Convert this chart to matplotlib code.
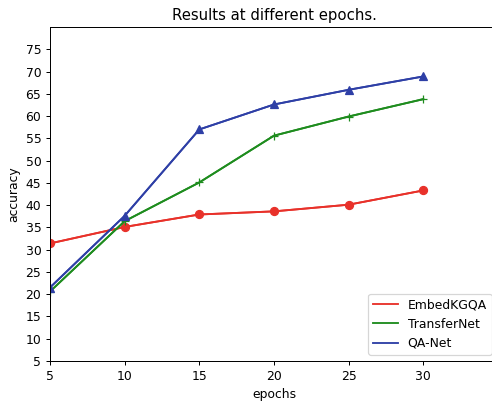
import matplotlib
matplotlib.use("Agg")
import matplotlib.pyplot as plt

epochs = [5, 10, 15, 20, 25, 30]
embedkgqa = [31.4, 35.1, 37.9, 38.6, 40.1, 43.3]
transfernet = [20.6, 36.4, 45.1, 55.6, 59.9, 63.8]
qanet = [21.5, 37.6, 57.0, 62.6, 65.9, 68.9]

series_names = ["EmbedKGQA", "TransferNet", "QA-Net"]
colors = ["#e8312a", "#1e8c1e", "#2e3fa6"]
markers = ["o", "+", "^"]

DPI = 89
fig = plt.figure(figsize=(492 / DPI, 404 / DPI), dpi=DPI)
ax = fig.add_axes([50 / 492, 43 / 404, 448 / 492, 334 / 404])

for name, vals, c, m in zip(series_names, [embedkgqa, transfernet, qanet], colors, markers):
    ax.plot(epochs, vals, color=c, lw=1.5, label=name)
    ax.plot(epochs, vals, color=c, lw=1.5, marker=m, markersize=6.5)

ax.set_xlim(5, 35)
ax.set_ylim(5, 80)
ax.set_xticks(range(5, 31, 5))
ax.set_yticks(range(5, 76, 5))
ax.set_xlabel("epochs")
ax.set_ylabel("accuracy")
ax.set_title("Results at different epochs.")
ax.legend(loc="lower right")

fig.savefig("out.png", dpi=DPI)
